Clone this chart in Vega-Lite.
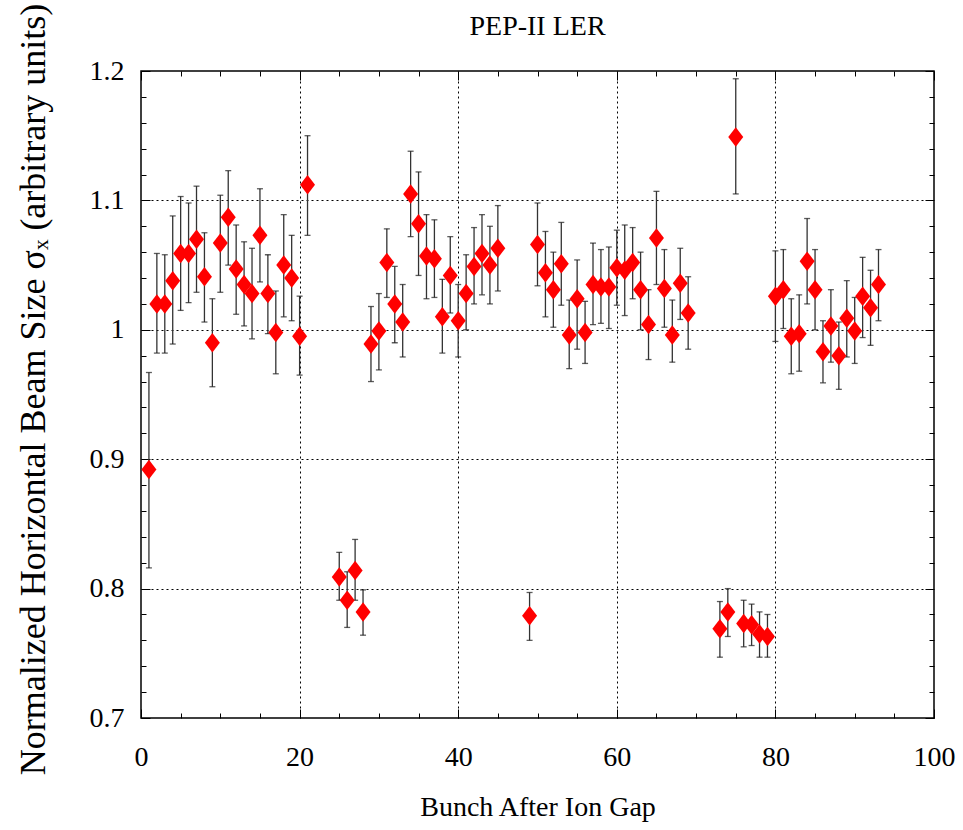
{
  "$schema": "https://vega.github.io/schema/vega-lite/v6.json",
  "width": 793,
  "height": 647,
  "autosize": "none",
  "padding": {"left": 141, "top": 71, "right": 29, "bottom": 112},
  "background": "white",
  "title": {"text": "PEP-II LER", "font": "Liberation Serif", "fontSize": 28, "fontWeight": "normal", "color": "black", "anchor": "middle", "baseline": "alphabetic", "offset": 0, "dy": 60},
  "config": {
    "view": {"stroke": "black", "strokeWidth": 1.5},
    "axis": {"labelFont": "Liberation Serif", "titleFont": "Liberation Serif", "labelColor": "black", "titleColor": "black", "titleFontWeight": "normal", "domain": false, "tickColor": "black", "tickWidth": 1, "labelFlush": false, "labelOverlap": false}
  },
  "data": {"values": [
    {"x": 1, "y": 0.892, "hi": 0.967, "lo": 0.816},
    {"x": 2, "y": 1.020, "hi": 1.059, "lo": 0.982},
    {"x": 3, "y": 1.020, "hi": 1.058, "lo": 0.982},
    {"x": 4, "y": 1.038, "hi": 1.088, "lo": 0.989},
    {"x": 5, "y": 1.059, "hi": 1.103, "lo": 1.015},
    {"x": 6, "y": 1.059, "hi": 1.098, "lo": 1.021},
    {"x": 7, "y": 1.070, "hi": 1.111, "lo": 1.029},
    {"x": 8, "y": 1.041, "hi": 1.075, "lo": 1.006},
    {"x": 9, "y": 0.990, "hi": 1.024, "lo": 0.956},
    {"x": 10, "y": 1.067, "hi": 1.104, "lo": 1.029},
    {"x": 11, "y": 1.087, "hi": 1.123, "lo": 1.050},
    {"x": 12, "y": 1.047, "hi": 1.081, "lo": 1.012},
    {"x": 13, "y": 1.035, "hi": 1.068, "lo": 1.003},
    {"x": 14, "y": 1.028, "hi": 1.063, "lo": 0.993},
    {"x": 15, "y": 1.073, "hi": 1.109, "lo": 1.037},
    {"x": 16, "y": 1.028, "hi": 1.058, "lo": 0.997},
    {"x": 17, "y": 0.998, "hi": 1.030, "lo": 0.966},
    {"x": 18, "y": 1.050, "hi": 1.089, "lo": 1.010},
    {"x": 19, "y": 1.040, "hi": 1.073, "lo": 1.007},
    {"x": 20, "y": 0.995, "hi": 1.026, "lo": 0.965},
    {"x": 21, "y": 1.112, "hi": 1.150, "lo": 1.073},
    {"x": 25, "y": 0.809, "hi": 0.828, "lo": 0.791},
    {"x": 26, "y": 0.791, "hi": 0.813, "lo": 0.770},
    {"x": 27, "y": 0.814, "hi": 0.838, "lo": 0.791},
    {"x": 28, "y": 0.782, "hi": 0.799, "lo": 0.764},
    {"x": 29, "y": 0.989, "hi": 1.018, "lo": 0.960},
    {"x": 30, "y": 0.999, "hi": 1.028, "lo": 0.969},
    {"x": 31, "y": 1.052, "hi": 1.078, "lo": 1.025},
    {"x": 32, "y": 1.020, "hi": 1.049, "lo": 0.990},
    {"x": 33, "y": 1.006, "hi": 1.035, "lo": 0.979},
    {"x": 34, "y": 1.105, "hi": 1.138, "lo": 1.072},
    {"x": 35, "y": 1.082, "hi": 1.122, "lo": 1.042},
    {"x": 36, "y": 1.057, "hi": 1.089, "lo": 1.024},
    {"x": 37, "y": 1.055, "hi": 1.085, "lo": 1.025},
    {"x": 38, "y": 1.010, "hi": 1.039, "lo": 0.982},
    {"x": 39, "y": 1.042, "hi": 1.072, "lo": 1.013},
    {"x": 40, "y": 1.007, "hi": 1.035, "lo": 0.979},
    {"x": 41, "y": 1.028, "hi": 1.058, "lo": 1.000},
    {"x": 42, "y": 1.049, "hi": 1.079, "lo": 1.020},
    {"x": 43, "y": 1.059, "hi": 1.089, "lo": 1.027},
    {"x": 44, "y": 1.050, "hi": 1.080, "lo": 1.020},
    {"x": 45, "y": 1.063, "hi": 1.096, "lo": 1.030},
    {"x": 49, "y": 0.779, "hi": 0.797, "lo": 0.760},
    {"x": 50, "y": 1.066, "hi": 1.098, "lo": 1.034},
    {"x": 51, "y": 1.044, "hi": 1.076, "lo": 1.010},
    {"x": 52, "y": 1.031, "hi": 1.060, "lo": 1.002},
    {"x": 53, "y": 1.051, "hi": 1.083, "lo": 1.019},
    {"x": 54, "y": 0.996, "hi": 1.023, "lo": 0.970},
    {"x": 55, "y": 1.024, "hi": 1.054, "lo": 0.985},
    {"x": 56, "y": 0.998, "hi": 1.022, "lo": 0.974},
    {"x": 57, "y": 1.035, "hi": 1.067, "lo": 1.004},
    {"x": 58, "y": 1.033, "hi": 1.062, "lo": 1.005},
    {"x": 59, "y": 1.033, "hi": 1.064, "lo": 1.001},
    {"x": 60, "y": 1.048, "hi": 1.077, "lo": 1.019},
    {"x": 61, "y": 1.046, "hi": 1.081, "lo": 1.011},
    {"x": 62, "y": 1.052, "hi": 1.079, "lo": 1.024},
    {"x": 63, "y": 1.031, "hi": 1.060, "lo": 1.000},
    {"x": 64, "y": 1.004, "hi": 1.031, "lo": 0.977},
    {"x": 65, "y": 1.071, "hi": 1.107, "lo": 1.035},
    {"x": 66, "y": 1.032, "hi": 1.062, "lo": 1.002},
    {"x": 67, "y": 0.996, "hi": 1.023, "lo": 0.975},
    {"x": 68, "y": 1.036, "hi": 1.063, "lo": 1.008},
    {"x": 69, "y": 1.013, "hi": 1.041, "lo": 0.985},
    {"x": 73, "y": 0.769, "hi": 0.790, "lo": 0.747},
    {"x": 74, "y": 0.782, "hi": 0.800, "lo": 0.763},
    {"x": 75, "y": 1.149, "hi": 1.194, "lo": 1.105},
    {"x": 76, "y": 0.773, "hi": 0.791, "lo": 0.755},
    {"x": 77, "y": 0.772, "hi": 0.788, "lo": 0.756},
    {"x": 78, "y": 0.765, "hi": 0.782, "lo": 0.747},
    {"x": 79, "y": 0.763, "hi": 0.780, "lo": 0.747},
    {"x": 80, "y": 1.026, "hi": 1.061, "lo": 0.991},
    {"x": 81, "y": 1.031, "hi": 1.062, "lo": 1.001},
    {"x": 82, "y": 0.995, "hi": 1.024, "lo": 0.966},
    {"x": 83, "y": 0.997, "hi": 1.027, "lo": 0.968},
    {"x": 84, "y": 1.053, "hi": 1.086, "lo": 1.020},
    {"x": 85, "y": 1.031, "hi": 1.062, "lo": 1.000},
    {"x": 86, "y": 0.983, "hi": 1.007, "lo": 0.959},
    {"x": 87, "y": 1.003, "hi": 1.031, "lo": 0.975},
    {"x": 88, "y": 0.980, "hi": 1.006, "lo": 0.954},
    {"x": 89, "y": 1.009, "hi": 1.038, "lo": 0.979},
    {"x": 90, "y": 0.999, "hi": 1.025, "lo": 0.974},
    {"x": 91, "y": 1.026, "hi": 1.056, "lo": 0.994},
    {"x": 92, "y": 1.017, "hi": 1.046, "lo": 0.988},
    {"x": 93, "y": 1.035, "hi": 1.062, "lo": 1.007}
  ]},
  "resolve": {"axis": {"x": "independent", "y": "independent"}},
  "layer": [
    {
      "mark": {"type": "rule", "color": "#333333", "strokeWidth": 1.3},
      "encoding": {
        "x": {"field": "x", "type": "quantitative", "scale": {"domain": [0, 100], "nice": false, "zero": false},
          "axis": {"orient": "top", "labels": false, "title": null, "grid": false,
            "values": [0,5,10,15,20,25,30,35,40,45,50,55,60,65,70,75,80,85,90,95,100],
            "tickSize": {"condition": {"test": "datum.value % 20 === 0", "value": -9}, "value": -5}}},
        "y": {"field": "lo", "type": "quantitative", "scale": {"domain": [0.7, 1.2], "nice": false, "zero": false},
          "axis": {"orient": "right", "labels": false, "title": null, "grid": false,
            "values": [0.7,0.72,0.74,0.76,0.78,0.8,0.82,0.84,0.86,0.88,0.9,0.92,0.94,0.96,0.98,1,1.02,1.04,1.06,1.08,1.1,1.12,1.14,1.16,1.18,1.2],
            "tickSize": {"condition": {"test": "indexof([0.7,0.8,0.9,1,1.1,1.2], datum.value) >= 0", "value": -9}, "value": -5}}},
        "y2": {"field": "hi"}
      }
    },
    {
      "mark": {"type": "tick", "orient": "horizontal", "color": "#1a1a1a", "size": 6, "thickness": 1.3},
      "encoding": {
        "x": {"field": "x", "type": "quantitative", "axis": null},
        "y": {"field": "lo", "type": "quantitative", "axis": null}
      }
    },
    {
      "mark": {"type": "tick", "orient": "horizontal", "color": "#1a1a1a", "size": 6, "thickness": 1.3},
      "encoding": {
        "x": {"field": "x", "type": "quantitative", "axis": null},
        "y": {"field": "hi", "type": "quantitative", "axis": null}
      }
    },
    {
      "mark": {"type": "point", "filled": true, "color": "#ff0000", "opacity": 1, "size": 225, "shape": "M0,-1.3L1,0L0,1.3L-1,0Z"},
      "encoding": {
        "x": {"field": "x", "type": "quantitative",
          "axis": {"orient": "bottom", "title": "Bunch After Ion Gap", "titleFontSize": 28, "titleBaseline": "alphabetic", "titleY": 97,
            "labelFontSize": 28, "labelPadding": 48, "labelBaseline": "middle",
            "values": [0,5,10,15,20,25,30,35,40,45,50,55,60,65,70,75,80,85,90,95,100],
            "labelExpr": "datum.value % 20 === 0 ? format(datum.value, 'd') : ''",
            "tickSize": {"condition": {"test": "datum.value % 20 === 0", "value": -9}, "value": -5},
            "grid": true, "gridColor": "black", "gridDash": [2, 3], "gridWidth": 1,
            "gridOpacity": {"condition": {"test": "datum.value % 20 === 0 && datum.value > 0 && datum.value < 100", "value": 1}, "value": 0}}},
        "y": {"field": "y", "type": "quantitative",
          "axis": {"orient": "left", "title": "Normalized Horizontal Beam Size σₓ (arbitrary units)", "titleFontSize": 36, "titleAngle": -90, "titleAlign": "center", "titleBaseline": "middle", "titleX": -108, "titleY": 318,
            "labelFontSize": 28, "labelPadding": 26,
            "values": [0.7,0.72,0.74,0.76,0.78,0.8,0.82,0.84,0.86,0.88,0.9,0.92,0.94,0.96,0.98,1,1.02,1.04,1.06,1.08,1.1,1.12,1.14,1.16,1.18,1.2],
            "labelExpr": "indexof([0.7,0.8,0.9,1,1.1,1.2], datum.value) >= 0 ? format(datum.value, '~g') : ''",
            "tickSize": {"condition": {"test": "indexof([0.7,0.8,0.9,1,1.1,1.2], datum.value) >= 0", "value": -9}, "value": -5},
            "grid": true, "gridColor": "black", "gridDash": [2, 3], "gridWidth": 1,
            "gridOpacity": {"condition": {"test": "indexof([0.8,0.9,1,1.1], datum.value) >= 0", "value": 1}, "value": 0}}}
      }
    }
  ]
}
